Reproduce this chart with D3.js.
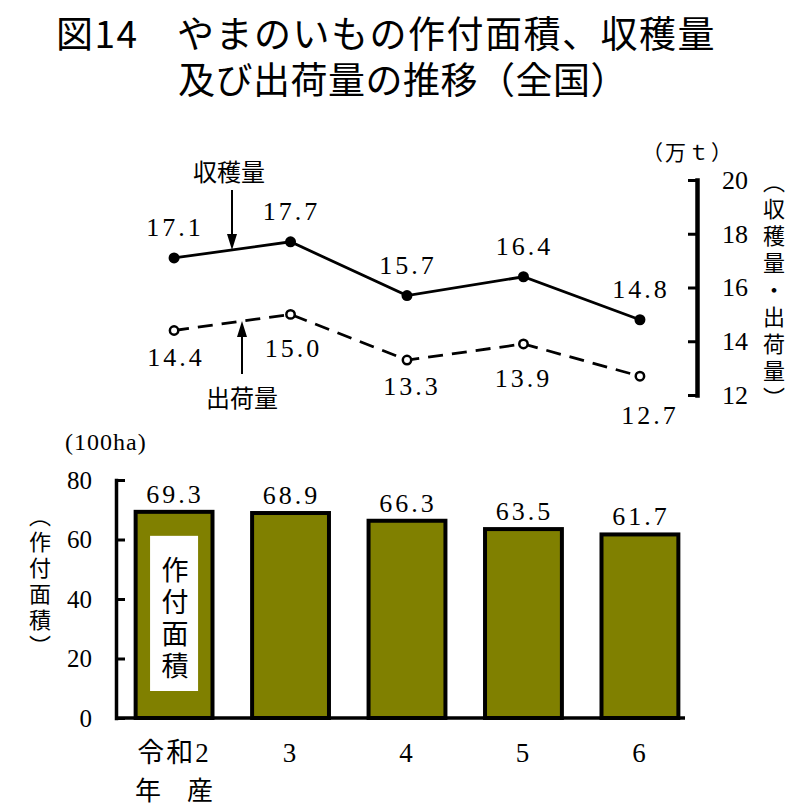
<!DOCTYPE html>
<html>
<head>
<meta charset="utf-8">
<script src="https://cdn.jsdelivr.net/npm/d3@7"></script>
<style>
  body { margin: 0; background: #fff; }
  svg { display: block; }
</style>
</head>
<body>
<div id="chart"></div>
<script>
// data
const years = ["令和2", "3", "4", "5", "6"];
const yearSub = ["年　産", "", "", "", ""];
const harvest = [17.1, 17.7, 15.7, 16.4, 14.8];   // 収穫量 (万t)
const shipment = [14.4, 15.0, 13.3, 13.9, 12.7];  // 出荷量 (万t)
const area = [69.3, 68.9, 66.3, 63.5, 61.7];      // 作付面積 (100ha)
const lineTicks = [12, 14, 16, 18, 20];
const barTicks = [0, 20, 40, 60, 80];

let width = 798;
let height = 808;
const serif = '"Liberation Serif", "Noto Sans CJK JP", serif';
const gothic = '"Noto Sans CJK JP", sans-serif';
const fmt = d3.format(".1f");

let svg = d3.select("#chart")
    .append("svg")
    .attr("width", width)
    .attr("height", height);

// title
svg.append("text")
    .attr("x", 56).attr("y", 48)
    .attr("font-family", gothic).attr("font-size", 37).attr("font-weight", 400)
    .attr("letter-spacing", 1.5)
    .text("図14　やまのいもの作付面積、収穫量");
svg.append("text")
    .attr("x", 178).attr("y", 94)
    .attr("font-family", gothic).attr("font-size", 37).attr("font-weight", 400)
    .attr("letter-spacing", 0.5)
    .text("及び出荷量の推移（全国）");

// shared x positions
let xScale = d3.scaleBand()
    .domain(years)
    .range([117, 697])
    .paddingInner(0.34)
    .paddingOuter(0.16);
const cx = i => xScale(years[i]) + xScale.bandwidth() / 2;

// ---------- line chart ----------
let yLine = d3.scaleLinear().domain([12, 20]).range([395, 180]);

let rAxis = svg.append("g")
    .attr("transform", "translate(697,0)")
    .call(d3.axisRight(yLine).tickValues(lineTicks).tickSize(-9).tickSizeOuter(0).tickPadding(25));
rAxis.select(".domain").attr("stroke-width", 4.5).attr("stroke-linecap", "square");
rAxis.selectAll(".tick line").attr("stroke-width", 3);
rAxis.selectAll(".tick text").attr("font-family", serif).attr("font-size", 26).attr("fill", "#000");

svg.append("text")
    .attr("x", 688).attr("y", 160)
    .attr("text-anchor", "middle")
    .attr("font-family", gothic).attr("font-size", 21)
    .attr("letter-spacing", 2)
    .text("（万ｔ）");

svg.append("text")
    .attr("x", 774).attr("y", 171)
    .attr("font-family", gothic).attr("font-size", 22)
    .attr("letter-spacing", 5)
    .style("writing-mode", "vertical-rl")
    .text("（収穫量・出荷量）");

let line = d3.line()
    .x((d, i) => cx(i))
    .y(d => yLine(d));

svg.append("path")
    .attr("d", line(harvest))
    .attr("fill", "none").attr("stroke", "#000").attr("stroke-width", 2.8);
svg.append("path")
    .attr("d", line(shipment))
    .attr("fill", "none").attr("stroke", "#000").attr("stroke-width", 2.8)
    .attr("stroke-dasharray", "15,9");

svg.selectAll(".hdot")
    .data(harvest).enter().append("circle")
    .attr("cx", (d, i) => cx(i)).attr("cy", d => yLine(d))
    .attr("r", 5.5).attr("fill", "#000");
svg.selectAll(".sdot")
    .data(shipment).enter().append("circle")
    .attr("cx", (d, i) => cx(i)).attr("cy", d => yLine(d))
    .attr("r", 4.2).attr("fill", "#fff").attr("stroke", "#000").attr("stroke-width", 2.5);

svg.selectAll(".hlab")
    .data(harvest).enter().append("text")
    .attr("x", (d, i) => cx(i) + 1).attr("y", d => yLine(d) - 22)
    .attr("text-anchor", "middle")
    .attr("font-family", serif).attr("font-size", 26).attr("letter-spacing", 3)
    .text(d => fmt(d));

// shipment labels sit below, nudged to clear the dashed line
const shipDy = [35, 43, 35, 43, 48];
const shipDx = [2, 3, 5, 0, 10];
svg.selectAll(".slab")
    .data(shipment).enter().append("text")
    .attr("x", (d, i) => cx(i) + shipDx[i]).attr("y", (d, i) => yLine(d) + shipDy[i])
    .attr("text-anchor", "middle")
    .attr("font-family", serif).attr("font-size", 26).attr("letter-spacing", 3)
    .text(d => fmt(d));

// y of a series at some x between points
function yAt(series, px) {
    for (let i = 0; i < series.length - 1; i++) {
        let x0 = cx(i), x1 = cx(i + 1);
        if (px >= x0 && px <= x1) {
            let t = (px - x0) / (x1 - x0);
            return yLine(series[i] + t * (series[i + 1] - series[i]));
        }
    }
    return yLine(series[0]);
}

// annotation 収穫量 (arrow pointing down)
let ax1 = 232, tip1 = yAt(harvest, ax1);
svg.append("text")
    .attr("x", ax1 - 3).attr("y", 181)
    .attr("text-anchor", "middle")
    .attr("font-family", gothic).attr("font-size", 24)
    .text("収穫量");
svg.append("line")
    .attr("x1", ax1).attr("x2", ax1).attr("y1", 190).attr("y2", tip1 - 12)
    .attr("stroke", "#000").attr("stroke-width", 2);
svg.append("path")
    .attr("d", `M${ax1 - 5},${tip1 - 16}L${ax1 + 5},${tip1 - 16}L${ax1},${tip1}Z`)
    .attr("fill", "#000");

// annotation 出荷量 (arrow pointing up)
let ax2 = 242, tip2 = yAt(shipment, ax2);
svg.append("text")
    .attr("x", ax2).attr("y", 407)
    .attr("text-anchor", "middle")
    .attr("font-family", gothic).attr("font-size", 24)
    .text("出荷量");
svg.append("line")
    .attr("x1", ax2).attr("x2", ax2).attr("y1", 374).attr("y2", tip2 + 12)
    .attr("stroke", "#000").attr("stroke-width", 2);
svg.append("path")
    .attr("d", `M${ax2 - 5},${tip2 + 16}L${ax2 + 5},${tip2 + 16}L${ax2},${tip2}Z`)
    .attr("fill", "#000");

// ---------- bar chart ----------
let yBar = d3.scaleLinear().domain([0, 80]).range([718, 480]);

svg.append("text")
    .attr("x", 65).attr("y", 450)
    .attr("font-family", serif).attr("font-size", 24).attr("letter-spacing", 1)
    .text("(100ha)");

svg.append("text")
    .attr("x", 40).attr("y", 505)
    .attr("font-family", gothic).attr("font-size", 22)
    .attr("letter-spacing", 4)
    .style("writing-mode", "vertical-rl")
    .text("（作付面積）");

svg.selectAll(".bar")
    .data(area).enter().append("rect")
    .attr("x", (d, i) => xScale(years[i]))
    .attr("width", xScale.bandwidth())
    .attr("y", d => yBar(d))
    .attr("height", d => yBar(0) - yBar(d))
    .attr("fill", "#808000")
    .attr("stroke", "#000").attr("stroke-width", 4);

svg.selectAll(".blab")
    .data(area).enter().append("text")
    .attr("x", (d, i) => cx(i) + 1).attr("y", d => yBar(d) - 9)
    .attr("text-anchor", "middle")
    .attr("font-family", serif).attr("font-size", 26).attr("letter-spacing", 3)
    .text(d => fmt(d));

// white legend box inside first bar
svg.append("rect")
    .attr("x", cx(0) - 24).attr("width", 48)
    .attr("y", yBar(area[0]) + 24).attr("height", yBar(0) - yBar(area[0]) - 51)
    .attr("fill", "#fff");
svg.append("text")
    .attr("x", cx(0) + 1).attr("y", yBar(area[0]) + 44)
    .attr("font-family", gothic).attr("font-size", 27)
    .attr("letter-spacing", 5)
    .style("writing-mode", "vertical-rl")
    .text("作付面積");

svg.append("line")
    .attr("x1", 116).attr("x2", 685)
    .attr("y1", yBar(0)).attr("y2", yBar(0))
    .attr("stroke", "#000").attr("stroke-width", 3.5);

let lAxis = svg.append("g")
    .attr("transform", "translate(116,0)")
    .call(d3.axisLeft(yBar).tickValues(barTicks).tickSize(-9).tickSizeOuter(0).tickPadding(24));
lAxis.select(".domain").attr("stroke-width", 3.5).attr("stroke-linecap", "square");
lAxis.selectAll(".tick line").attr("stroke-width", 3);
lAxis.selectAll(".tick text").attr("font-family", serif).attr("font-size", 25).attr("fill", "#000");

// x labels
svg.selectAll(".xlab")
    .data(years).enter().append("text")
    .attr("x", (d, i) => cx(i)).attr("y", 762)
    .attr("text-anchor", "middle")
    .attr("font-family", serif).attr("font-size", 27).attr("letter-spacing", 2)
    .text(d => d);
svg.selectAll(".xsub")
    .data(yearSub).enter().append("text")
    .attr("x", (d, i) => cx(i)).attr("y", 800)
    .attr("text-anchor", "middle")
    .attr("font-family", gothic).attr("font-size", 26)
    .text(d => d);
</script>
</body>
</html>
